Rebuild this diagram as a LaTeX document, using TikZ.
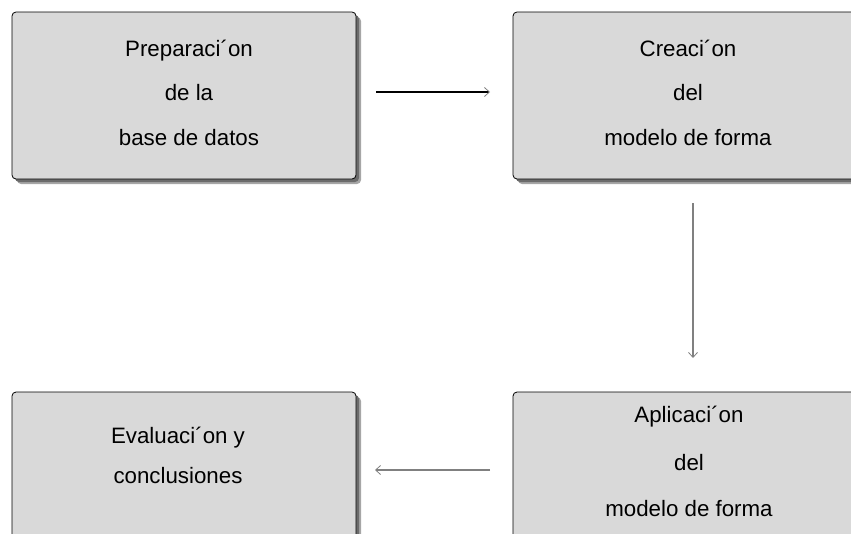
\documentclass[tikz,border=0pt]{standalone}
\usepackage{fontspec}
\setmainfont{Liberation Sans}
\usetikzlibrary{shadows,arrows.meta}
\begin{document}
\begin{tikzpicture}[x=1pt,y=-1pt,
  stagebox/.style={rectangle, rounded corners=4pt, draw=black, line width=0.8pt,
    fill=black!15, minimum width=344pt, minimum height=167pt, inner sep=0pt,
    general shadow={fill=black!35, shadow xshift=5pt, shadow yshift=-5pt},
    general shadow={fill=black!58, shadow xshift=3pt, shadow yshift=-3pt}},
  label/.style={anchor=base, inner sep=0pt, font=\fontsize{22.3pt}{26pt}\selectfont},
  flow/.style={draw=black!50, line width=1.3pt, -{Straight Barb[length=5pt,width=9pt,line width=0.8pt]}}]
\useasboundingbox (0,0) rectangle (851,533);
\clip (0,0) rectangle (851,533);

% stage boxes
\node[stagebox] (prep) at (184,95.5) {};
\node[stagebox] (crea) at (685,95.5) {};
\node[stagebox] (eval) at (184,475.5) {};
\node[stagebox] (apli) at (685,475.5) {};

% box texts
\node[label] (prep1) at (189,56)  {Preparaci´on};
\node[label] (prep2) at (189,100) {de la};
\node[label] (prep3) at (189,145) {base de datos};

\node[label] (crea1) at (688,56)  {Creaci´on};
\node[label] (crea2) at (688,100) {del};
\node[label] (crea3) at (688,145) {modelo de forma};

\node[label] (eval1) at (178,443) {Evaluaci´on y};
\node[label] (eval2) at (178,483) {conclusiones};

\node[label] (apli1) at (689,422) {Aplicaci´on};
\node[label] (apli2) at (689,470) {del};
\node[label] (apli3) at (689,516) {modelo de forma};

% arrow end points
\coordinate (a1s) at (376,92);
\coordinate (a1e) at (490,92);
\coordinate (a2s) at (693,203);
\coordinate (a2e) at (693,358);
\coordinate (a3s) at (490,470);
\coordinate (a3e) at (375,470);

% connectors
\draw[flow, draw=black, line width=2pt, -{Straight Barb[length=5pt,width=9pt,line width=0.8pt,color=black!50]}] (a1s) -- (a1e);
\draw[flow] (a2s) -- (a2e);
\draw[flow] (a3s) -- (a3e);
\end{tikzpicture}
\end{document}
